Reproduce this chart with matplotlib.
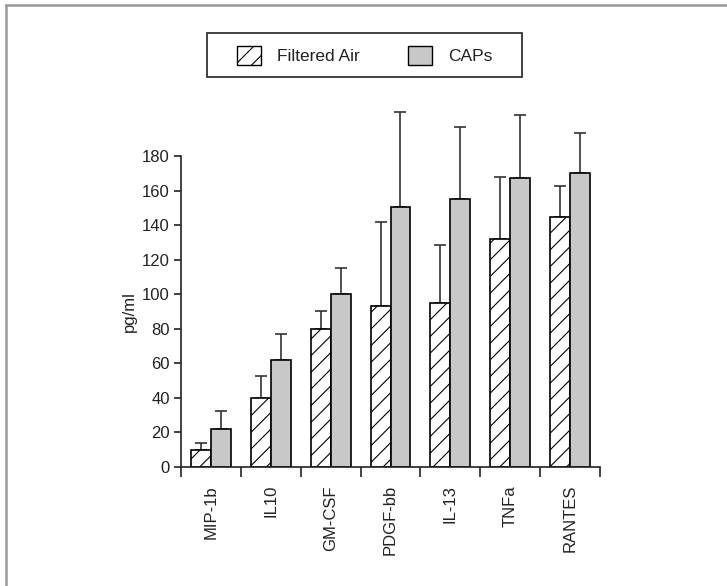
import matplotlib.pyplot as plt
from matplotlib.patches import Patch, Rectangle
from matplotlib.lines import Line2D
import numpy as np

plt.rcParams['font.family'] = ['Liberation Sans', 'DejaVu Sans']
plt.rcParams['hatch.linewidth'] = 0.8

# cytokine levels (pg/ml), mean and upper SE
cytokines = ['MIP-1b', 'IL10', 'GM-CSF', 'PDGF-bb', 'IL-13', 'TNFa', 'RANTES']
filtered_air = [10, 40, 80, 93, 95, 132, 144.5]
filtered_air_err = [4, 12.5, 10, 49, 33.5, 36, 18]
caps = [22, 62, 100, 150.5, 155, 167, 170]
caps_err = [10.5, 15, 15, 55, 42, 37, 23.5]

x = np.arange(len(cytokines))
w = 1 / 3
ink = '#222222'

fig = plt.figure(figsize=(7.27, 5.86), dpi=100)
ax = fig.add_axes([0.249, 0.2031, 0.5763, 0.5307])

ax.bar(x - w / 2, filtered_air, w, color='white', edgecolor='black',
       linewidth=1.2, hatch='//', zorder=2)
ax.bar(x + w / 2, caps, w, color='#c8c8c8', edgecolor='black',
       linewidth=1.2, zorder=2)

zeros = [0] * len(x)
ax.errorbar(x - w / 2, filtered_air, yerr=[zeros, filtered_air_err], fmt='none',
            ecolor='#333333', elinewidth=1.2, capsize=4, capthick=1.2,
            clip_on=False, zorder=1)
ax.errorbar(x + w / 2, caps, yerr=[zeros, caps_err], fmt='none',
            ecolor='#333333', elinewidth=1.2, capsize=4, capthick=1.2,
            clip_on=False, zorder=1)

ax.set_xlim(-0.5, len(x) - 0.5)
ax.set_ylim(0, 180)
ax.set_yticks(np.arange(0, 181, 20))
ax.set_xticks(x)
ax.set_xticklabels(cytokines, rotation=90)
ax.set_xticks(np.arange(-0.5, len(x)), minor=True)
ax.tick_params(axis='x', which='major', length=0, pad=13, labelsize=12, colors=ink)
ax.tick_params(axis='x', which='minor', length=7, width=1.2, direction='out', color=ink)
ax.tick_params(axis='y', length=5, width=1.2, direction='out', pad=3,
               labelsize=12, colors=ink)
ax.set_ylabel('pg/ml', fontsize=12, color=ink, labelpad=4)

for s in ['top', 'right']:
    ax.spines[s].set_visible(False)
for s in ['left', 'bottom']:
    ax.spines[s].set_linewidth(1.2)
    ax.spines[s].set_color(ink)

# legend with its own box
handles = [Patch(facecolor='white', edgecolor='black', hatch='//', linewidth=1.0),
           Patch(facecolor='#c8c8c8', edgecolor='black', linewidth=1.0)]
fig.legend(handles, ['Filtered Air', 'CAPs'], loc='center',
           bbox_to_anchor=(0.5014, 0.906), ncol=2, frameon=False,
           fontsize=12.5, handlelength=1.4, handleheight=1.3,
           handletextpad=0.9, columnspacing=2.8, labelcolor=ink)
fig.patches.append(Rectangle((207 / 727, 1 - 77 / 586), 315 / 727, 44 / 586,
                             transform=fig.transFigure, fill=False,
                             edgecolor='#333333', linewidth=1.3))

# page frame
fig.lines.append(Line2D([6 / 727, 1], [1 - 5 / 586, 1 - 5 / 586],
                        transform=fig.transFigure, color='#999999', linewidth=1.8))
fig.lines.append(Line2D([6 / 727, 6 / 727], [0, 1 - 5 / 586],
                        transform=fig.transFigure, color='#999999', linewidth=1.8))

fig.savefig('out.png', dpi=100)
